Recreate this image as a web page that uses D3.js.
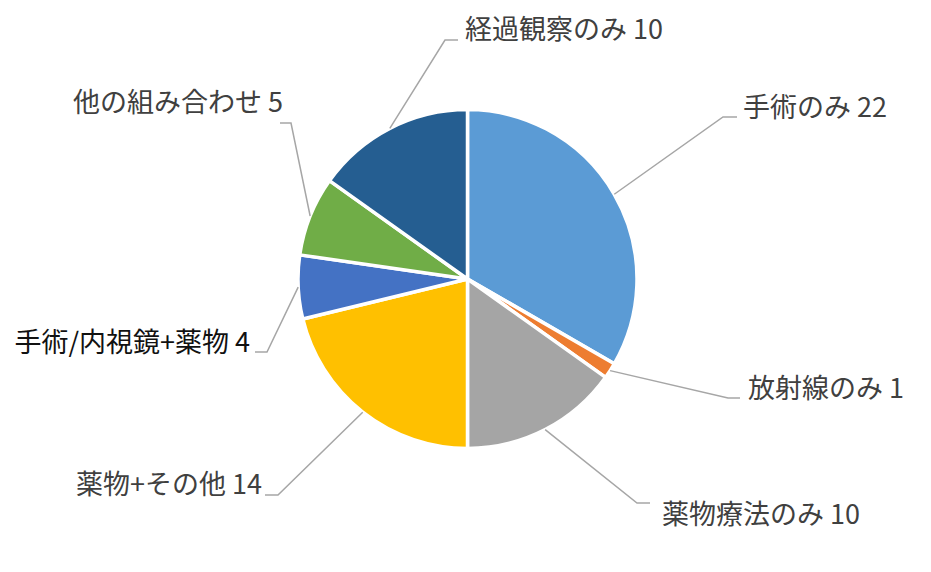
<!DOCTYPE html>
<html>
<head>
<meta charset="utf-8">
<script src="https://cdn.jsdelivr.net/npm/d3@7"></script>
<style>
	body { margin: 0; background: #fff; }
	svg text { font-family: "Noto Sans CJK JP", "Noto Sans", sans-serif; }
</style>
</head>
<body>
<script>
// Chart data
const categories = ["手術のみ", "放射線のみ", "薬物療法のみ", "薬物+その他", "手術/内視鏡+薬物", "他の組み合わせ", "経過観察のみ"];
const counts = [22, 1, 10, 14, 4, 5, 10];
const colors = ["#5B9BD5", "#ED7D31", "#A5A5A5", "#FFC000", "#4472C4", "#70AD47", "#255E91"];
const textColors = ["#404040", "#404040", "#404040", "#404040", "#111111", "#404040", "#404040"];

// Label placement (offsets from pie centre): elbow of leader, end of the short horizontal, text anchor
const labelLayout = [
	{ elbow: [255.5, -162], end: 269.5, text: [275.5, -171], anchor: "start" },
	{ elbow: [260.5, 119], end: 272.5, text: [280.5, 110], anchor: "start" },
	{ elbow: [169.5, 224], end: 182.5, text: [194.5, 236], anchor: "start" },
	{ elbow: [-189.5, 216], end: -202.5, text: [-205.5, 206], anchor: "end" },
	{ elbow: [-200.5, 73], end: -212.5, text: [-217.5, 64], anchor: "end" },
	{ elbow: [-176.5, -156], end: -187.5, text: [-184.5, -176], anchor: "end" },
	{ elbow: [-22.5, -239], end: -9.5, text: [-2.5, -249], anchor: "start" }
];

const w = 931;
const h = 572;
const cx = 467.5;
const cy = 279;
const radius = 169.5;

const svg = d3.select("body").append("svg").attr("width", w).attr("height", h);
const g = svg.append("g").attr("transform", `translate(${cx},${cy})`);

const data = categories.map((c, i) => ({ name: c, value: counts[i], i: i }));

const pie = d3.pie().sort(null).value((d) => d.value);
const arcs = pie(data);

const arc = d3.arc().innerRadius(0).outerRadius(radius);
const edgeArc = d3.arc().innerRadius(radius).outerRadius(radius);

// Slices
g.selectAll("path.slice")
	.data(arcs)
	.enter()
	.append("path")
	.attr("class", "slice")
	.attr("d", arc)
	.attr("fill", (d) => colors[d.data.i])
	.attr("stroke", "#fff")
	.attr("stroke-width", 3.5)
	.attr("stroke-linejoin", "round");

// Leader lines from slice edge midpoint
g.selectAll("polyline.leader")
	.data(arcs)
	.enter()
	.append("polyline")
	.attr("class", "leader")
	.attr("points", (d) => {
		const p = edgeArc.centroid(d);
		const l = labelLayout[d.data.i];
		return [p, l.elbow, [l.end, l.elbow[1]]].map((q) => q.join(",")).join(" ");
	})
	.attr("fill", "none")
	.attr("stroke", "#A6A6A6")
	.attr("stroke-width", 1.5);

// Labels
g.selectAll("text.label")
	.data(arcs)
	.enter()
	.append("text")
	.attr("class", "label")
	.attr("x", (d) => labelLayout[d.data.i].text[0])
	.attr("y", (d) => labelLayout[d.data.i].text[1])
	.attr("dy", "0.35em")
	.attr("text-anchor", (d) => labelLayout[d.data.i].anchor)
	.attr("font-size", 27)
	.attr("fill", (d) => textColors[d.data.i])
	.text((d) => `${d.data.name} ${d.data.value}`);
</script>
</body>
</html>
